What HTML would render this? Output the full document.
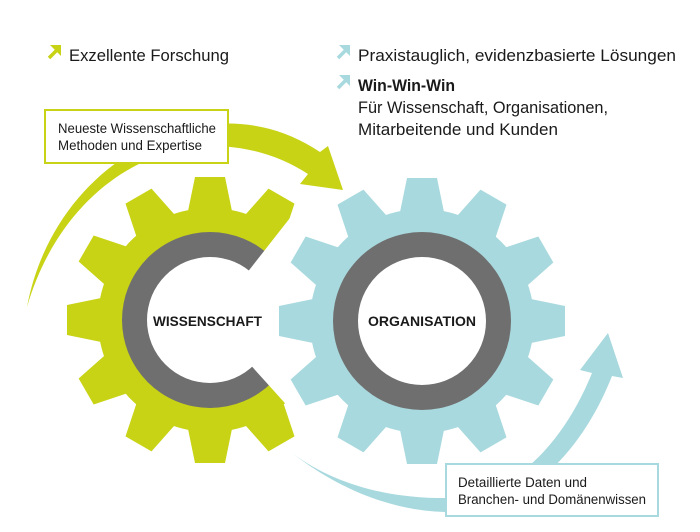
<!DOCTYPE html>
<html><head><meta charset="utf-8"><style>
html,body{margin:0;padding:0;background:#fff;}
svg{display:block;}
text{font-family:"Liberation Sans",sans-serif;fill:#1a1a1a;}
</style></head><body>
<svg width="700" height="532" viewBox="0 0 700 532" xmlns="http://www.w3.org/2000/svg">
<defs>
  <polygon id="tooth" points="-23,-104 -15,-143 15,-143 23,-104"/>
  <g id="gear">
    <circle r="112"/>
    <use href="#tooth"/>
    <use href="#tooth" transform="rotate(30)"/>
    <use href="#tooth" transform="rotate(60)"/>
    <use href="#tooth" transform="rotate(90)"/>
    <use href="#tooth" transform="rotate(120)"/>
    <use href="#tooth" transform="rotate(150)"/>
    <use href="#tooth" transform="rotate(180)"/>
    <use href="#tooth" transform="rotate(210)"/>
    <use href="#tooth" transform="rotate(240)"/>
    <use href="#tooth" transform="rotate(270)"/>
    <use href="#tooth" transform="rotate(300)"/>
    <use href="#tooth" transform="rotate(330)"/>
  </g>
  <mask id="cut">
    <rect x="0" y="0" width="700" height="532" fill="#fff"/>
    <polygon points="210,320 395,84 700,0 700,532 411,543" fill="#000"/>
  </mask>
</defs>

<path d="M27,307 C45,210 120,135 215,124 C255,121 290,132 320,152 L328,146 L343,190 L300,184 L308,174 C280,156 250,147 215,146 C130,146 55,210 27,307 Z" fill="#c8d316"/>
<path d="M292,453 C345,494 400,512 450,512 C525,512 582,452 612,376 L623,378 L608,333 L580,370 L592,373 C565,440 515,497 450,498 C390,499 335,485 292,453 Z" fill="#a8d9de"/>

<g mask="url(#cut)">
  <use href="#gear" transform="translate(210,320)" fill="#c8d316"/>
  <circle cx="210" cy="320" r="88" fill="#706f6f"/>
  <circle cx="210" cy="320" r="63" fill="#fff"/>
</g>
<use href="#gear" transform="translate(422,321)" fill="#a8d9de"/>
<circle cx="422" cy="321" r="89" fill="#706f6f"/>
<circle cx="422" cy="321" r="64" fill="#fff"/>

<text x="153" y="326" font-size="14" font-weight="bold" textLength="109" lengthAdjust="spacingAndGlyphs">WISSENSCHAFT</text>
<text x="368" y="326" font-size="14" font-weight="bold" textLength="108" lengthAdjust="spacingAndGlyphs">ORGANISATION</text>

<rect x="45" y="110" width="183" height="53" fill="#fff" stroke="#c8d316" stroke-width="2"/>
<text x="58" y="133" font-size="13.5" textLength="158" lengthAdjust="spacingAndGlyphs">Neueste Wissenschaftliche</text>
<text x="58" y="150" font-size="13.5" textLength="144" lengthAdjust="spacingAndGlyphs">Methoden und Expertise</text>

<rect x="446" y="464" width="212" height="52" fill="#fff" stroke="#a8d9de" stroke-width="2"/>
<text x="458" y="487" font-size="13.5" textLength="129" lengthAdjust="spacingAndGlyphs">Detaillierte Daten und</text>
<text x="458" y="504" font-size="13.5" textLength="188" lengthAdjust="spacingAndGlyphs">Branchen- und Domänenwissen</text>

<g stroke="#c8d316" stroke-width="3.5" fill="none"><line x1="49" y1="58" x2="58" y2="49"/></g>
<polygon points="50,45 61,45 61,56" fill="#c8d316"/>
<g stroke="#a8d9de" stroke-width="3.5" fill="none"><line x1="338" y1="58" x2="347" y2="49"/><line x1="338" y1="88" x2="347" y2="79"/></g>
<polygon points="339,45 350,45 350,56" fill="#a8d9de"/>
<polygon points="339,75 350,75 350,86" fill="#a8d9de"/>

<text x="69" y="61" font-size="17" textLength="160" lengthAdjust="spacingAndGlyphs">Exzellente Forschung</text>
<text x="358" y="61" font-size="17" textLength="318" lengthAdjust="spacingAndGlyphs">Praxistauglich, evidenzbasierte Lösungen</text>
<text x="358" y="91" font-size="17" font-weight="bold" textLength="97" lengthAdjust="spacingAndGlyphs">Win-Win-Win</text>
<text x="358" y="113" font-size="17" textLength="250" lengthAdjust="spacingAndGlyphs">Für Wissenschaft, Organisationen,</text>
<text x="358" y="135" font-size="17" textLength="200" lengthAdjust="spacingAndGlyphs">Mitarbeitende und Kunden</text>
</svg>
</body></html>
